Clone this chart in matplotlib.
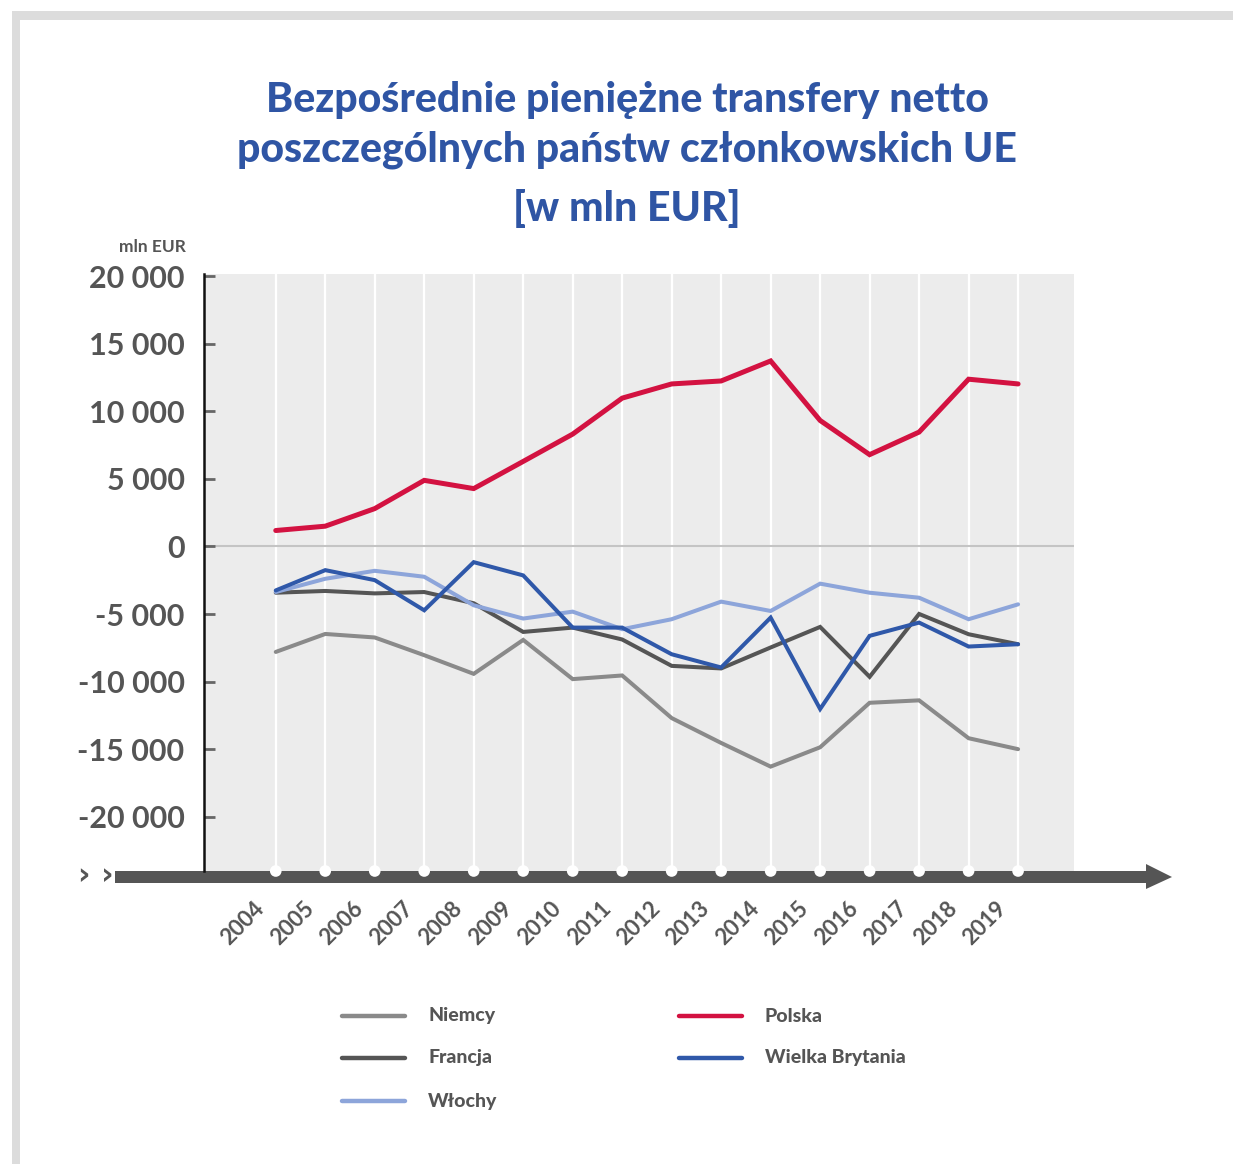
import numpy as np
import matplotlib
matplotlib.use("Agg")
import matplotlib.pyplot as plt
from matplotlib.patches import Rectangle, Polygon

plt.rcParams['font.family'] = ['Lato', 'DejaVu Sans']

years = list(range(2004, 2020))
niemcy = [-7800, -6470, -6730, -8040, -9420, -6910, -9810, -9540,
          -12690, -14530, -16280, -14850, -11560, -11380, -14180, -14990]
francja = [-3420, -3290, -3470, -3370, -4200, -6320, -6000, -6880,
           -8830, -9020, -7470, -5950, -9640, -4990, -6490, -7230]
wlochy = [-3370, -2390, -1800, -2240, -4350, -5330, -4820, -6120,
          -5380, -4080, -4770, -2750, -3420, -3790, -5380, -4280]
polska = [1180, 1500, 2800, 4890, 4280, 6290, 8310, 10970,
          12020, 12240, 13720, 9320, 6790, 8460, 12370, 12020]
wielka_brytania = [-3250, -1750, -2490, -4720, -1160, -2140, -6000, -6000,
                   -7970, -8950, -5260, -12020, -6610, -5630, -7400, -7230]

yticks = [20000, 15000, 10000, 5000, 0, -5000, -10000, -15000, -20000]
ytick_labels = ['20 000', '15 000', '10 000', '5 000', '0',
                '-5 000', '-10 000', '-15 000', '-20 000']

title = 'Bezpośrednie pieniężne transfery netto\nposzczególnych państw członkowskich UE'
title2 = '[w mln EUR]'

series = [
    ('Niemcy', niemcy, '#8a8a8a', 2.9),
    ('Francja', francja, '#555555', 2.9),
    ('Włochy', wlochy, '#8da5da', 2.9),
    ('Polska', polska, '#d31241', 3.6),
    ('Wielka Brytania', wielka_brytania, '#2f58a9', 2.9),
]

W, H = 1233, 1164
fig = plt.figure(figsize=(W / 100, H / 100), dpi=100)
fig.patch.set_facecolor('white')

# light grey frame at top and left edge
fig.patches.append(Rectangle((12 / W, 1 - 20 / H), 1, 9 / H, transform=fig.transFigure,
                             facecolor='#dcdcdc', edgecolor='none'))
fig.patches.append(Rectangle((12 / W, 0), 8 / W, 1 - 12 / H, transform=fig.transFigure,
                             facecolor='#dcdcdc', edgecolor='none'))

left, right, top, bottom = 204, 1074, 274, 871
ax = fig.add_axes([left / W, 1 - bottom / H, (right - left) / W, (bottom - top) / H])
ax.set_facecolor('#ececec')
ax.set_xlim(2002.55, 2020.13)
ax.set_ylim(-24000, 20150)

for y in years:
    ax.axvline(y, color='white', lw=1.6, zorder=1)
ax.axhline(0, color='#c4c4c4', lw=1.5, zorder=1)

for name, vals, col, lw in series:
    ax.plot(years, vals, color=col, lw=lw, solid_capstyle='round',
            solid_joinstyle='miter', zorder=3, label=name)

for s in ['top', 'right', 'bottom']:
    ax.spines[s].set_visible(False)
ax.spines['left'].set_color('#111111')
ax.spines['left'].set_linewidth(1.8)

ax.set_yticks(yticks)
ax.set_yticklabels(ytick_labels, fontsize=22, color='#555555', fontweight='bold')
ax.tick_params(axis='y', direction='in', length=8, width=2, color='#666666', pad=14)
ax.set_xticks([])

# horizontal arrow axis
px = lambda x, y: (x / W, 1 - y / H)
arrow = Polygon([px(115, 871), px(1146, 871), px(1146, 864), px(1172, 877),
                 px(1146, 889), px(1146, 883), px(115, 883)],
                closed=True, transform=fig.transFigure, facecolor='#555555',
                edgecolor='none', zorder=-1)
fig.patches.append(arrow)
fig.text(78 / W, 1 - 876 / H, '› ›', fontsize=22, fontweight='bold', color='#555555',
         va='center', ha='left', family='DejaVu Sans')

ax.scatter(years, [-24000] * len(years), s=70, color='white', edgecolor='none',
           zorder=6, clip_on=False)

for y in years:
    ax.annotate(str(y), xy=(y, -24000), xytext=(-16, -19), textcoords='offset points',
                rotation=45, ha='right', va='top', rotation_mode='anchor',
                fontsize=16, color='#555555', fontweight='bold',
                annotation_clip=False)

fig.text(186 / W, 1 - 247 / H, 'mln EUR', fontsize=12.5, color='#555555',
         ha='right', va='center', fontweight='bold')

fig.text(627 / W, 1 - 125 / H, title, fontsize=29.5, fontweight='black', color='#2f55a4',
         ha='center', va='center', linespacing=1.35)
fig.text(627 / W, 1 - 208 / H, title2, fontsize=29.5, fontweight='black', color='#2f55a4',
         ha='center', va='center')

# legend
legend_pos = [(342, 1016), (342, 1058), (342, 1101), (679, 1016), (679, 1058)]
for (name, vals, col, lw), (lx, ly) in zip(series, legend_pos):
    fig.lines.append(plt.Line2D([lx / W, (lx + 63) / W], [1 - ly / H, 1 - ly / H],
                                transform=fig.transFigure, color=col, lw=3.2,
                                solid_capstyle='round'))
    fig.text((lx + 86) / W, 1 - ly / H, name, fontsize=14, fontweight='black',
             color='#555555', ha='left', va='center')

fig.savefig('out.png', dpi=100, facecolor='white')
